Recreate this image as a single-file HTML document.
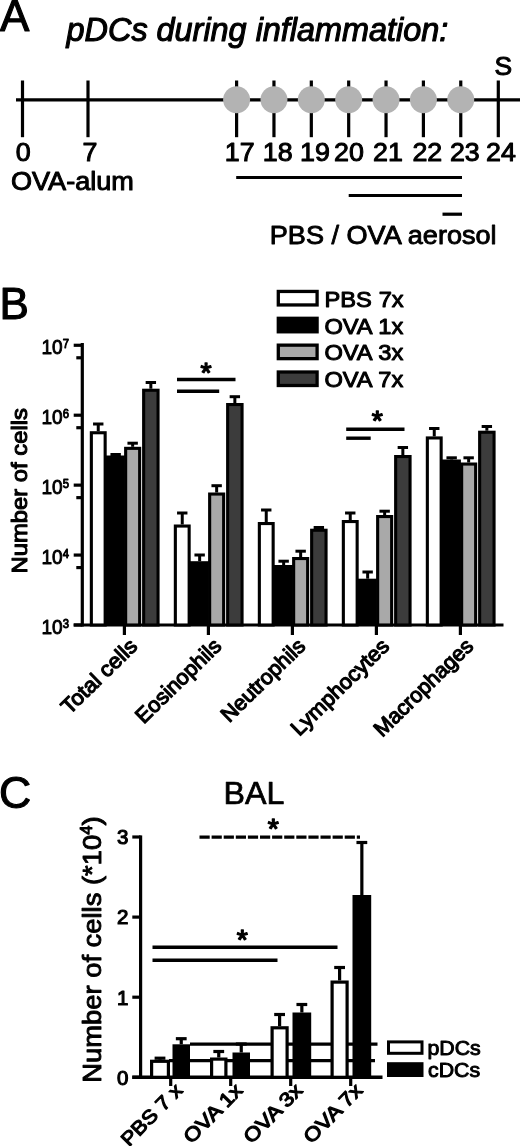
<!DOCTYPE html>
<html lang="en">
<head>
<meta charset="utf-8">
<title>pDCs during inflammation</title>
<style>
html,body{margin:0;padding:0;background:#fff;}
body{width:520px;height:1146px;overflow:hidden;}
svg{display:block;font-family:'Liberation Sans', Arial, Helvetica, sans-serif;fill:#000;}
svg text{stroke-linejoin:round;}
</style>
</head>
<body>
<svg width="520" height="1146" viewBox="0 0 520 1146">
<rect x="0" y="0" width="520" height="1146" fill="#fff"/>
<text transform="translate(0.00,31.00)" font-size="44" text-anchor="start" stroke="#000" stroke-width="1.1" >A</text>
<text transform="translate(66.60,40.90)" font-size="32.4" text-anchor="start" stroke="#000" stroke-width="1.1" font-style="italic">pDCs during inflammation:</text>
<line x1="16.00" y1="99.80" x2="520.00" y2="99.80" stroke="#000" stroke-width="3.2" />
<line x1="22.50" y1="80.50" x2="22.50" y2="137.20" stroke="#000" stroke-width="3.2" />
<line x1="88.00" y1="80.50" x2="88.00" y2="137.20" stroke="#000" stroke-width="3.2" />
<line x1="236.60" y1="80.50" x2="236.60" y2="137.20" stroke="#000" stroke-width="3.2" />
<circle cx="236.60" cy="99.8" r="13.5" fill="#b3b3b3"/>
<line x1="273.96" y1="80.50" x2="273.96" y2="137.20" stroke="#000" stroke-width="3.2" />
<circle cx="273.96" cy="99.8" r="13.5" fill="#b3b3b3"/>
<line x1="311.32" y1="80.50" x2="311.32" y2="137.20" stroke="#000" stroke-width="3.2" />
<circle cx="311.32" cy="99.8" r="13.5" fill="#b3b3b3"/>
<line x1="348.68" y1="80.50" x2="348.68" y2="137.20" stroke="#000" stroke-width="3.2" />
<circle cx="348.68" cy="99.8" r="13.5" fill="#b3b3b3"/>
<line x1="386.04" y1="80.50" x2="386.04" y2="137.20" stroke="#000" stroke-width="3.2" />
<circle cx="386.04" cy="99.8" r="13.5" fill="#b3b3b3"/>
<line x1="423.40" y1="80.50" x2="423.40" y2="137.20" stroke="#000" stroke-width="3.2" />
<circle cx="423.40" cy="99.8" r="13.5" fill="#b3b3b3"/>
<line x1="460.76" y1="80.50" x2="460.76" y2="137.20" stroke="#000" stroke-width="3.2" />
<circle cx="460.76" cy="99.8" r="13.5" fill="#b3b3b3"/>
<line x1="498.30" y1="80.50" x2="498.30" y2="137.20" stroke="#000" stroke-width="3.2" />
<text transform="translate(23.30,160.80) scale(1.04,1)" font-size="25.8" text-anchor="middle" stroke="#000" stroke-width="1.0" >0</text>
<text transform="translate(90.00,160.80) scale(1.04,1)" font-size="25.8" text-anchor="middle" stroke="#000" stroke-width="1.0" >7</text>
<text transform="translate(239.70,160.80) scale(1.04,1)" font-size="25.8" text-anchor="middle" stroke="#000" stroke-width="1.0" >17</text>
<text transform="translate(277.70,160.80) scale(1.04,1)" font-size="25.8" text-anchor="middle" stroke="#000" stroke-width="1.0" >18</text>
<text transform="translate(315.00,160.80) scale(1.04,1)" font-size="25.8" text-anchor="middle" stroke="#000" stroke-width="1.0" >19</text>
<text transform="translate(349.00,160.80) scale(1.04,1)" font-size="25.8" text-anchor="middle" stroke="#000" stroke-width="1.0" >20</text>
<text transform="translate(388.00,160.80) scale(1.04,1)" font-size="25.8" text-anchor="middle" stroke="#000" stroke-width="1.0" >21</text>
<text transform="translate(427.30,160.80) scale(1.04,1)" font-size="25.8" text-anchor="middle" stroke="#000" stroke-width="1.0" >22</text>
<text transform="translate(464.80,160.80) scale(1.04,1)" font-size="25.8" text-anchor="middle" stroke="#000" stroke-width="1.0" >23</text>
<text transform="translate(501.00,160.80) scale(1.04,1)" font-size="25.8" text-anchor="middle" stroke="#000" stroke-width="1.0" >24</text>
<text transform="translate(11.00,189.80) scale(1.03,1)" font-size="26.3" text-anchor="start" stroke="#000" stroke-width="1.0" >OVA-alum</text>
<text transform="translate(503.40,74.50)" font-size="26.4" text-anchor="middle" stroke="#000" stroke-width="1.0" >S</text>
<line x1="236.20" y1="177.50" x2="462.00" y2="177.50" stroke="#000" stroke-width="3.2" />
<line x1="348.70" y1="195.50" x2="462.00" y2="195.50" stroke="#000" stroke-width="3.2" />
<line x1="442.50" y1="214.20" x2="462.00" y2="214.20" stroke="#000" stroke-width="3.2" />
<text transform="translate(269.80,243.80) scale(1.03,1)" font-size="26.3" text-anchor="start" stroke="#000" stroke-width="0.9" >PBS / OVA aerosol</text>
<text transform="translate(-0.50,318.70)" font-size="44" text-anchor="start" stroke="#000" stroke-width="1.1" >B</text>
<rect x="278.30" y="291.45" width="38.80" height="13.50" fill="#fff" stroke="#000" stroke-width="3.3"/>
<text transform="translate(324.40,306.70) scale(1.1,1)" font-size="21.5" text-anchor="start" stroke="#000" stroke-width="1.0" word-spacing="0.4">PBS 7x</text>
<rect x="278.30" y="318.30" width="38.80" height="13.50" fill="#000" stroke="#000" stroke-width="3.3"/>
<text transform="translate(324.40,333.55) scale(1.1,1)" font-size="21.5" text-anchor="start" stroke="#000" stroke-width="1.0" word-spacing="0.4">OVA 1x</text>
<rect x="278.30" y="345.15" width="38.80" height="13.50" fill="#a9a9a9" stroke="#000" stroke-width="3.3"/>
<text transform="translate(324.40,360.40) scale(1.1,1)" font-size="21.5" text-anchor="start" stroke="#000" stroke-width="1.0" word-spacing="0.4">OVA 3x</text>
<rect x="278.30" y="372.00" width="38.80" height="13.50" fill="#3c3c3c" stroke="#000" stroke-width="3.3"/>
<text transform="translate(324.40,387.25) scale(1.1,1)" font-size="21.5" text-anchor="start" stroke="#000" stroke-width="1.0" word-spacing="0.4">OVA 7x</text>
<line x1="82.30" y1="343.00" x2="82.30" y2="626.50" stroke="#000" stroke-width="3.2" />
<line x1="73.70" y1="625.00" x2="503.50" y2="625.00" stroke="#000" stroke-width="3.2" />
<line x1="73.70" y1="625.00" x2="82.30" y2="625.00" stroke="#000" stroke-width="3.2" />
<text transform="translate(41.50,634.20) scale(0.94,1)" font-size="20.3" text-anchor="start" stroke="#000" stroke-width="0.9" >10<tspan dy="-6" font-size="12">3</tspan></text>
<line x1="73.70" y1="555.07" x2="82.30" y2="555.07" stroke="#000" stroke-width="3.2" />
<line x1="76.30" y1="567.57" x2="82.30" y2="567.57" stroke="#000" stroke-width="3.2" />
<text transform="translate(41.50,564.27) scale(0.94,1)" font-size="20.3" text-anchor="start" stroke="#000" stroke-width="0.9" >10<tspan dy="-6" font-size="12">4</tspan></text>
<line x1="73.70" y1="485.14" x2="82.30" y2="485.14" stroke="#000" stroke-width="3.2" />
<line x1="76.30" y1="497.64" x2="82.30" y2="497.64" stroke="#000" stroke-width="3.2" />
<text transform="translate(41.50,494.34) scale(0.94,1)" font-size="20.3" text-anchor="start" stroke="#000" stroke-width="0.9" >10<tspan dy="-6" font-size="12">5</tspan></text>
<line x1="73.70" y1="415.21" x2="82.30" y2="415.21" stroke="#000" stroke-width="3.2" />
<line x1="76.30" y1="427.71" x2="82.30" y2="427.71" stroke="#000" stroke-width="3.2" />
<text transform="translate(41.50,424.41) scale(0.94,1)" font-size="20.3" text-anchor="start" stroke="#000" stroke-width="0.9" >10<tspan dy="-6" font-size="12">6</tspan></text>
<line x1="73.70" y1="345.28" x2="82.30" y2="345.28" stroke="#000" stroke-width="3.2" />
<line x1="76.30" y1="357.78" x2="82.30" y2="357.78" stroke="#000" stroke-width="3.2" />
<text transform="translate(41.50,354.48) scale(0.94,1)" font-size="20.3" text-anchor="start" stroke="#000" stroke-width="0.9" >10<tspan dy="-6" font-size="12">7</tspan></text>
<line x1="124.40" y1="625.00" x2="124.40" y2="635.00" stroke="#000" stroke-width="3.2" />
<line x1="98.25" y1="424.00" x2="98.25" y2="431.20" stroke="#000" stroke-width="3.0" />
<line x1="93.05" y1="424.00" x2="103.45" y2="424.00" stroke="#000" stroke-width="3.0" />
<rect x="91.35" y="432.75" width="13.80" height="192.25" fill="#fff" stroke="#000" stroke-width="3.1"/>
<line x1="115.65" y1="454.50" x2="115.65" y2="455.50" stroke="#000" stroke-width="3.0" />
<line x1="110.45" y1="454.50" x2="120.85" y2="454.50" stroke="#000" stroke-width="3.0" />
<rect x="105.80" y="455.50" width="19.10" height="169.50" fill="#000" stroke="#000" stroke-width="0"/>
<line x1="132.65" y1="443.20" x2="132.65" y2="446.80" stroke="#000" stroke-width="3.0" />
<line x1="127.45" y1="443.20" x2="137.85" y2="443.20" stroke="#000" stroke-width="3.0" />
<rect x="125.65" y="448.35" width="14.00" height="176.65" fill="#a9a9a9" stroke="#000" stroke-width="3.1"/>
<line x1="150.85" y1="382.50" x2="150.85" y2="388.70" stroke="#000" stroke-width="3.0" />
<line x1="145.65" y1="382.50" x2="156.05" y2="382.50" stroke="#000" stroke-width="3.0" />
<rect x="143.65" y="390.25" width="14.40" height="234.75" fill="#3c3c3c" stroke="#000" stroke-width="3.1"/>
<text transform="translate(138.60,647.60) rotate(-44.3) scale(1.035,1)" font-size="21.3" text-anchor="end" stroke="#000" stroke-width="1.2" >Total cells</text>
<line x1="208.40" y1="625.00" x2="208.40" y2="635.00" stroke="#000" stroke-width="3.2" />
<line x1="182.25" y1="513.00" x2="182.25" y2="524.50" stroke="#000" stroke-width="3.0" />
<line x1="177.05" y1="513.00" x2="187.45" y2="513.00" stroke="#000" stroke-width="3.0" />
<rect x="175.35" y="526.05" width="13.80" height="98.95" fill="#fff" stroke="#000" stroke-width="3.1"/>
<line x1="199.65" y1="555.00" x2="199.65" y2="561.20" stroke="#000" stroke-width="3.0" />
<line x1="194.45" y1="555.00" x2="204.85" y2="555.00" stroke="#000" stroke-width="3.0" />
<rect x="189.80" y="561.20" width="19.10" height="63.80" fill="#000" stroke="#000" stroke-width="0"/>
<line x1="216.65" y1="485.70" x2="216.65" y2="492.50" stroke="#000" stroke-width="3.0" />
<line x1="211.45" y1="485.70" x2="221.85" y2="485.70" stroke="#000" stroke-width="3.0" />
<rect x="209.65" y="494.05" width="14.00" height="130.95" fill="#a9a9a9" stroke="#000" stroke-width="3.1"/>
<line x1="234.85" y1="396.70" x2="234.85" y2="403.00" stroke="#000" stroke-width="3.0" />
<line x1="229.65" y1="396.70" x2="240.05" y2="396.70" stroke="#000" stroke-width="3.0" />
<rect x="227.65" y="404.55" width="14.40" height="220.45" fill="#3c3c3c" stroke="#000" stroke-width="3.1"/>
<text transform="translate(222.60,647.60) rotate(-44.3) scale(1.012,1)" font-size="21.3" text-anchor="end" stroke="#000" stroke-width="1.2" >Eosinophils</text>
<line x1="292.40" y1="625.00" x2="292.40" y2="635.00" stroke="#000" stroke-width="3.2" />
<line x1="266.25" y1="510.00" x2="266.25" y2="522.00" stroke="#000" stroke-width="3.0" />
<line x1="261.05" y1="510.00" x2="271.45" y2="510.00" stroke="#000" stroke-width="3.0" />
<rect x="259.35" y="523.55" width="13.80" height="101.45" fill="#fff" stroke="#000" stroke-width="3.1"/>
<line x1="283.65" y1="561.20" x2="283.65" y2="565.00" stroke="#000" stroke-width="3.0" />
<line x1="278.45" y1="561.20" x2="288.85" y2="561.20" stroke="#000" stroke-width="3.0" />
<rect x="273.80" y="565.00" width="19.10" height="60.00" fill="#000" stroke="#000" stroke-width="0"/>
<line x1="300.65" y1="551.20" x2="300.65" y2="557.00" stroke="#000" stroke-width="3.0" />
<line x1="295.45" y1="551.20" x2="305.85" y2="551.20" stroke="#000" stroke-width="3.0" />
<rect x="293.65" y="558.55" width="14.00" height="66.45" fill="#a9a9a9" stroke="#000" stroke-width="3.1"/>
<line x1="318.85" y1="527.50" x2="318.85" y2="528.70" stroke="#000" stroke-width="3.0" />
<line x1="313.65" y1="527.50" x2="324.05" y2="527.50" stroke="#000" stroke-width="3.0" />
<rect x="311.65" y="530.25" width="14.40" height="94.75" fill="#3c3c3c" stroke="#000" stroke-width="3.1"/>
<text transform="translate(306.60,647.60) rotate(-44.3) scale(1.005,1)" font-size="21.3" text-anchor="end" stroke="#000" stroke-width="1.2" >Neutrophils</text>
<line x1="376.40" y1="625.00" x2="376.40" y2="635.00" stroke="#000" stroke-width="3.2" />
<line x1="350.25" y1="513.00" x2="350.25" y2="520.00" stroke="#000" stroke-width="3.0" />
<line x1="345.05" y1="513.00" x2="355.45" y2="513.00" stroke="#000" stroke-width="3.0" />
<rect x="343.35" y="521.55" width="13.80" height="103.45" fill="#fff" stroke="#000" stroke-width="3.1"/>
<line x1="367.65" y1="572.00" x2="367.65" y2="578.70" stroke="#000" stroke-width="3.0" />
<line x1="362.45" y1="572.00" x2="372.85" y2="572.00" stroke="#000" stroke-width="3.0" />
<rect x="357.80" y="578.70" width="19.10" height="46.30" fill="#000" stroke="#000" stroke-width="0"/>
<line x1="384.65" y1="511.20" x2="384.65" y2="515.00" stroke="#000" stroke-width="3.0" />
<line x1="379.45" y1="511.20" x2="389.85" y2="511.20" stroke="#000" stroke-width="3.0" />
<rect x="377.65" y="516.55" width="14.00" height="108.45" fill="#a9a9a9" stroke="#000" stroke-width="3.1"/>
<line x1="402.85" y1="447.50" x2="402.85" y2="455.00" stroke="#000" stroke-width="3.0" />
<line x1="397.65" y1="447.50" x2="408.05" y2="447.50" stroke="#000" stroke-width="3.0" />
<rect x="395.65" y="456.55" width="14.40" height="168.45" fill="#3c3c3c" stroke="#000" stroke-width="3.1"/>
<text transform="translate(390.60,647.60) rotate(-44.3) scale(1.024,1)" font-size="21.3" text-anchor="end" stroke="#000" stroke-width="1.2" >Lymphocytes</text>
<line x1="460.40" y1="625.00" x2="460.40" y2="635.00" stroke="#000" stroke-width="3.2" />
<line x1="434.25" y1="428.50" x2="434.25" y2="436.40" stroke="#000" stroke-width="3.0" />
<line x1="429.05" y1="428.50" x2="439.45" y2="428.50" stroke="#000" stroke-width="3.0" />
<rect x="427.35" y="437.95" width="13.80" height="187.05" fill="#fff" stroke="#000" stroke-width="3.1"/>
<line x1="451.65" y1="457.80" x2="451.65" y2="459.50" stroke="#000" stroke-width="3.0" />
<line x1="446.45" y1="457.80" x2="456.85" y2="457.80" stroke="#000" stroke-width="3.0" />
<rect x="441.80" y="459.50" width="19.10" height="165.50" fill="#000" stroke="#000" stroke-width="0"/>
<line x1="468.65" y1="457.80" x2="468.65" y2="462.50" stroke="#000" stroke-width="3.0" />
<line x1="463.45" y1="457.80" x2="473.85" y2="457.80" stroke="#000" stroke-width="3.0" />
<rect x="461.65" y="464.05" width="14.00" height="160.95" fill="#a9a9a9" stroke="#000" stroke-width="3.1"/>
<line x1="486.85" y1="426.50" x2="486.85" y2="430.70" stroke="#000" stroke-width="3.0" />
<line x1="481.65" y1="426.50" x2="492.05" y2="426.50" stroke="#000" stroke-width="3.0" />
<rect x="479.65" y="432.25" width="14.40" height="192.75" fill="#3c3c3c" stroke="#000" stroke-width="3.1"/>
<text transform="translate(474.60,647.60) rotate(-44.3)" font-size="21.3" text-anchor="end" stroke="#000" stroke-width="1.2" >Macrophages</text>
<text transform="translate(26.60,490.80) rotate(-90) scale(1.055,1)" font-size="22.6" text-anchor="middle" stroke="#000" stroke-width="1.1" >Number of cells</text>
<line x1="177.00" y1="379.50" x2="235.50" y2="379.50" stroke="#000" stroke-width="3.4" />
<line x1="177.00" y1="391.20" x2="219.20" y2="391.20" stroke="#000" stroke-width="3.4" />
<text transform="translate(206.00,381.50)" font-size="28.5" text-anchor="middle" stroke="#000" stroke-width="1.4" >*</text>
<line x1="346.20" y1="429.20" x2="404.50" y2="429.20" stroke="#000" stroke-width="3.4" />
<line x1="346.20" y1="438.20" x2="370.70" y2="438.20" stroke="#000" stroke-width="3.4" />
<text transform="translate(377.20,430.00)" font-size="28.5" text-anchor="middle" stroke="#000" stroke-width="1.4" >*</text>
<text transform="translate(-1.00,808.30)" font-size="44.6" text-anchor="start" stroke="#000" stroke-width="1.1" >C</text>
<text transform="translate(254.00,803.70)" font-size="32.2" text-anchor="middle" stroke="#000" stroke-width="0.7" >BAL</text>
<line x1="140.60" y1="835.40" x2="140.60" y2="1079.00" stroke="#000" stroke-width="3.2" />
<line x1="132.30" y1="1077.30" x2="382.50" y2="1077.30" stroke="#000" stroke-width="3.5" />
<line x1="132.30" y1="1077.30" x2="140.60" y2="1077.30" stroke="#000" stroke-width="3.2" />
<text transform="translate(128.50,1084.60)" font-size="20.5" text-anchor="end" stroke="#000" stroke-width="1.15" >0</text>
<line x1="132.30" y1="997.20" x2="140.60" y2="997.20" stroke="#000" stroke-width="3.2" />
<text transform="translate(128.50,1004.50)" font-size="20.5" text-anchor="end" stroke="#000" stroke-width="1.15" >1</text>
<line x1="132.30" y1="917.10" x2="140.60" y2="917.10" stroke="#000" stroke-width="3.2" />
<text transform="translate(128.50,924.40)" font-size="20.5" text-anchor="end" stroke="#000" stroke-width="1.15" >2</text>
<line x1="132.30" y1="837.00" x2="140.60" y2="837.00" stroke="#000" stroke-width="3.2" />
<text transform="translate(128.50,844.30)" font-size="20.5" text-anchor="end" stroke="#000" stroke-width="1.15" >3</text>
<text transform="translate(100.90,949.60) rotate(-90) scale(1.045,1)" font-size="26.2" text-anchor="middle" stroke="#000" stroke-width="0.95" >Number of cells (*10<tspan dy="-9" font-size="16">4</tspan><tspan dy="9">)</tspan></text>
<line x1="190.00" y1="1044.20" x2="377.50" y2="1044.20" stroke="#000" stroke-width="3.2" />
<line x1="169.00" y1="1060.60" x2="375.00" y2="1060.60" stroke="#000" stroke-width="3.2" />
<line x1="170.70" y1="1077.30" x2="170.70" y2="1086.00" stroke="#000" stroke-width="3.2" />
<line x1="160.00" y1="1058.20" x2="160.00" y2="1059.70" stroke="#000" stroke-width="3.2" />
<line x1="154.60" y1="1058.20" x2="165.40" y2="1058.20" stroke="#000" stroke-width="3.2" />
<rect x="151.60" y="1061.30" width="16.80" height="16.00" fill="#fff" stroke="#000" stroke-width="3.2"/>
<line x1="181.25" y1="1038.70" x2="181.25" y2="1044.30" stroke="#000" stroke-width="3.2" />
<line x1="175.85" y1="1038.70" x2="186.65" y2="1038.70" stroke="#000" stroke-width="3.2" />
<rect x="172.50" y="1044.30" width="17.50" height="33.00" fill="#000" stroke="#000" stroke-width="0"/>
<text transform="translate(183.70,1091.50) rotate(-45.5) scale(1.11,1)" font-size="19.5" text-anchor="end" stroke="#000" stroke-width="1.15" >PBS 7 x</text>
<line x1="230.70" y1="1077.30" x2="230.70" y2="1086.00" stroke="#000" stroke-width="3.2" />
<line x1="218.75" y1="1051.50" x2="218.75" y2="1057.50" stroke="#000" stroke-width="3.2" />
<line x1="213.35" y1="1051.50" x2="224.15" y2="1051.50" stroke="#000" stroke-width="3.2" />
<rect x="211.60" y="1059.10" width="14.30" height="18.20" fill="#fff" stroke="#000" stroke-width="3.2"/>
<line x1="241.25" y1="1044.00" x2="241.25" y2="1052.50" stroke="#000" stroke-width="3.2" />
<line x1="235.85" y1="1044.00" x2="246.65" y2="1044.00" stroke="#000" stroke-width="3.2" />
<rect x="232.50" y="1052.50" width="17.50" height="24.80" fill="#000" stroke="#000" stroke-width="0"/>
<text transform="translate(243.70,1091.50) rotate(-45.5) scale(1.15,1)" font-size="19.5" text-anchor="end" stroke="#000" stroke-width="1.15" >OVA 1x</text>
<line x1="290.70" y1="1077.30" x2="290.70" y2="1086.00" stroke="#000" stroke-width="3.2" />
<line x1="279.60" y1="1014.50" x2="279.60" y2="1026.20" stroke="#000" stroke-width="3.2" />
<line x1="274.20" y1="1014.50" x2="285.00" y2="1014.50" stroke="#000" stroke-width="3.2" />
<rect x="272.10" y="1027.80" width="15.00" height="49.50" fill="#fff" stroke="#000" stroke-width="3.2"/>
<line x1="301.85" y1="1004.50" x2="301.85" y2="1012.50" stroke="#000" stroke-width="3.2" />
<line x1="296.45" y1="1004.50" x2="307.25" y2="1004.50" stroke="#000" stroke-width="3.2" />
<rect x="292.50" y="1012.50" width="18.70" height="64.80" fill="#000" stroke="#000" stroke-width="0"/>
<text transform="translate(303.70,1091.50) rotate(-45.5) scale(1.15,1)" font-size="19.5" text-anchor="end" stroke="#000" stroke-width="1.15" >OVA 3x</text>
<line x1="350.70" y1="1077.30" x2="350.70" y2="1086.00" stroke="#000" stroke-width="3.2" />
<line x1="339.60" y1="967.50" x2="339.60" y2="980.50" stroke="#000" stroke-width="3.2" />
<line x1="334.20" y1="967.50" x2="345.00" y2="967.50" stroke="#000" stroke-width="3.2" />
<rect x="332.10" y="982.10" width="15.00" height="95.20" fill="#fff" stroke="#000" stroke-width="3.2"/>
<line x1="361.85" y1="842.50" x2="361.85" y2="895.00" stroke="#000" stroke-width="3.2" />
<line x1="356.45" y1="842.50" x2="367.25" y2="842.50" stroke="#000" stroke-width="3.2" />
<rect x="352.50" y="895.00" width="18.70" height="182.30" fill="#000" stroke="#000" stroke-width="0"/>
<text transform="translate(363.70,1091.50) rotate(-45.5) scale(1.15,1)" font-size="19.5" text-anchor="end" stroke="#000" stroke-width="1.15" >OVA 7x</text>
<line x1="152.50" y1="947.20" x2="337.50" y2="947.20" stroke="#000" stroke-width="3.4" />
<line x1="152.50" y1="960.30" x2="277.50" y2="960.30" stroke="#000" stroke-width="3.4" />
<text transform="translate(242.30,949.00)" font-size="28.5" text-anchor="middle" stroke="#000" stroke-width="1.4" >*</text>
<line x1="199.50" y1="837.20" x2="360.00" y2="837.20" stroke="#000" stroke-width="3.2" stroke-dasharray="10.2 1.9"/>
<text transform="translate(273.30,838.20)" font-size="28.5" text-anchor="middle" stroke="#000" stroke-width="1.4" >*</text>
<rect x="388.50" y="1041.90" width="33.50" height="11.40" fill="#fff" stroke="#000" stroke-width="3.0"/>
<rect x="387.00" y="1062.20" width="36.50" height="14.80" fill="#000" stroke="#000" stroke-width="0"/>
<text transform="translate(427.50,1054.70) scale(1.05,1)" font-size="20.3" text-anchor="start" stroke="#000" stroke-width="0.95" >pDCs</text>
<text transform="translate(428.00,1077.00) scale(1.05,1)" font-size="20.3" text-anchor="start" stroke="#000" stroke-width="0.95" >cDCs</text>
</svg>
</body>
</html>
